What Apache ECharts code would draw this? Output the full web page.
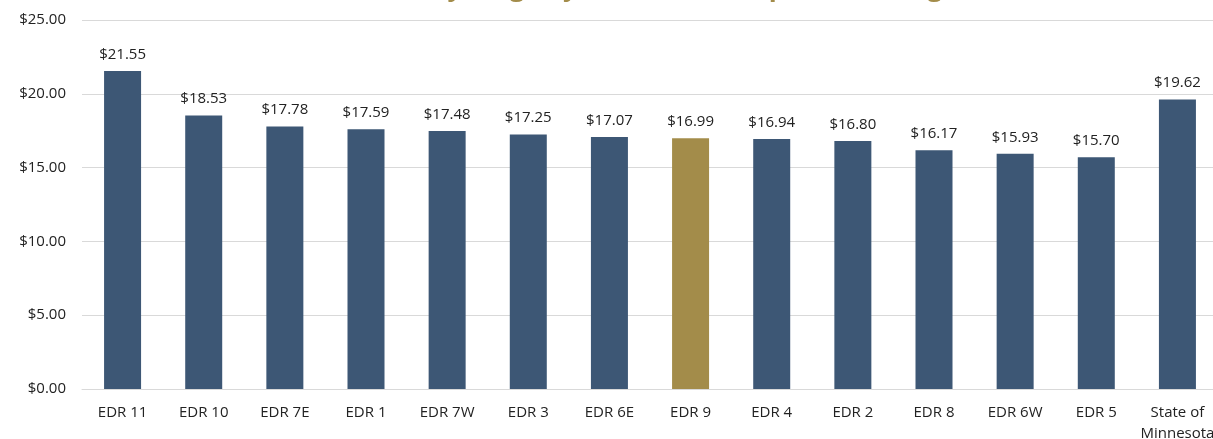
<!DOCTYPE html>
<html>
<head>
<meta charset="utf-8">
<script src="https://cdn.jsdelivr.net/npm/echarts@6/dist/echarts.min.js"></script>
<style>
    html, body { margin: 0; padding: 0; background: #fff; }
    #main { width: 1213px; height: 439px; }
</style>
</head>
<body>
<div id="main"></div>
<script>
let categories = ['EDR 11', 'EDR 10', 'EDR 7E', 'EDR 1', 'EDR 7W', 'EDR 3', 'EDR 6E', 'EDR 9',
    'EDR 4', 'EDR 2', 'EDR 8', 'EDR 6W', 'EDR 5', 'State of\nMinnesota'];
let wages = [21.55, 18.53, 17.78, 17.59, 17.48, 17.25, 17.07, 16.99, 16.94, 16.80, 16.17, 15.93, 15.70, 19.62];
let highlight = 'EDR 9';

let myChart = echarts.init(document.getElementById('main'));
let font = '"Open Sans", "Noto Sans", sans-serif';

let option = {
    animation: false,
    title: {
        text: 'Median Hourly Wage by EDR for the Top 100 Earning',
        left: 'center',
        top: -29,
        padding: [5, 5, 5, 79],
        textStyle: {
            color: '#A38C4A',
            fontSize: 26,
            fontWeight: 'bold',
            fontFamily: font
        }
    },
    grid: {
        left: 82,
        right: -5,
        top: 20,
        bottom: 50,
        outerBoundsMode: 'none',
        containLabel: false
    },
    xAxis: {
        type: 'category',
        data: categories,
        axisTick: { show: false },
        axisLine: { lineStyle: { color: '#d9d9d9', width: 1 } },
        axisLabel: {
            color: '#222',
            fontSize: 15,
            fontFamily: font,
            margin: 13,
            lineHeight: 21,
            interval: 0
        }
    },
    yAxis: {
        type: 'value',
        min: 0,
        max: 25,
        interval: 5,
        axisLabel: {
            color: '#222',
            fontSize: 15,
            fontFamily: font,
            margin: 16,
            formatter: v => '$' + v.toFixed(2)
        },
        splitLine: { lineStyle: { color: '#d9d9d9', width: 1 } }
    },
    series: [{
        type: 'bar',
        barWidth: 37,
        data: wages.map((v, i) => ({
            value: v,
            itemStyle: { color: categories[i] === highlight ? '#A38C4A' : '#3D5775' }
        })),
        label: {
            show: true,
            position: 'top',
            distance: 9,
            color: '#222',
            fontSize: 15,
            fontFamily: font,
            formatter: p => '$' + p.value.toFixed(2)
        }
    }]
};
myChart.setOption(option);
</script>
</body>
</html>
